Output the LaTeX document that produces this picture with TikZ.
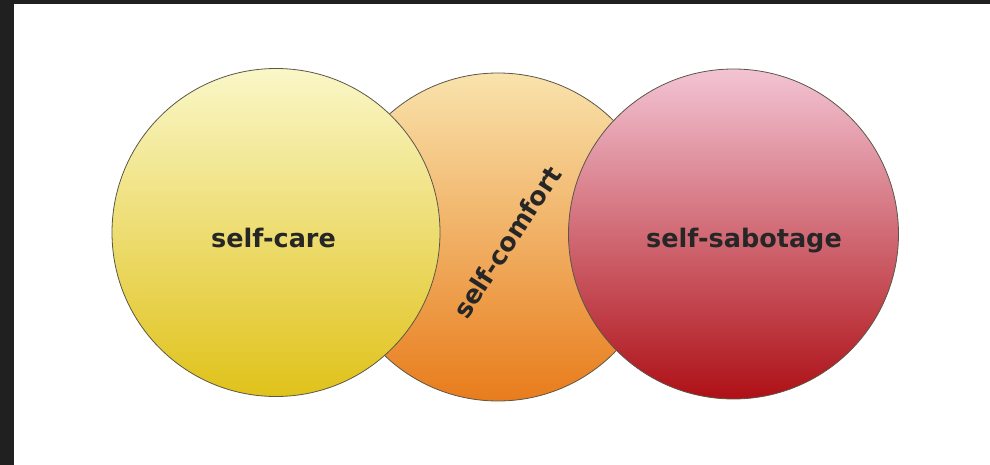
\documentclass[tikz,border=0pt]{standalone}
\usepackage{fontspec}
\setmainfont{DejaVu Sans}
\usepackage{xcolor}
\definecolor{frame}{HTML}{202020}
\definecolor{caretop}{HTML}{FAF7C8}
\definecolor{carebot}{HTML}{E0C21A}
\definecolor{comftop}{HTML}{F9E3AC}
\definecolor{comfbot}{HTML}{E87C1C}
\definecolor{sabotop}{HTML}{F3C4D4}
\definecolor{sabobot}{HTML}{AE1016}
\definecolor{rim}{HTML}{5A5648}

\tikzset{
  bubble/.style={circle, draw=rim, line width=0.8pt, inner sep=0pt, outer sep=0pt, shading=axis},
  word/.style={font=\fontsize{25.5}{30}\selectfont\bfseries, text=black!85, inner sep=0pt}
}

\begin{document}
\begin{tikzpicture}[x=1pt,y=-1pt]
      \useasboundingbox (0,0) rectangle (990,465);
      \fill [frame] (0,0) rectangle (990,4);
      \fill [frame] (0,0) rectangle (14,465);
      % middle one first, the other two lie on top of it
      \node [bubble, minimum size=328, top color=comftop, bottom color=comfbot] (comfort) at (498,237) {};
      \node [bubble, minimum size=328, top color=caretop, bottom color=carebot] (care) at (276,232.5) {};
      \node [bubble, minimum size=330, top color=sabotop, bottom color=sabobot] (sabotage) at (733.5,234) {};
      \node [word, anchor=base] (carelabel) at (273.5,247) {self-care};
      \node [word, anchor=base] (sabolabel) at (744,247) {self-sabotage};
      \node [word, rotate=57] (comflabel) at (507,242) {self-comfort};
    \end{tikzpicture}
\end{document}
